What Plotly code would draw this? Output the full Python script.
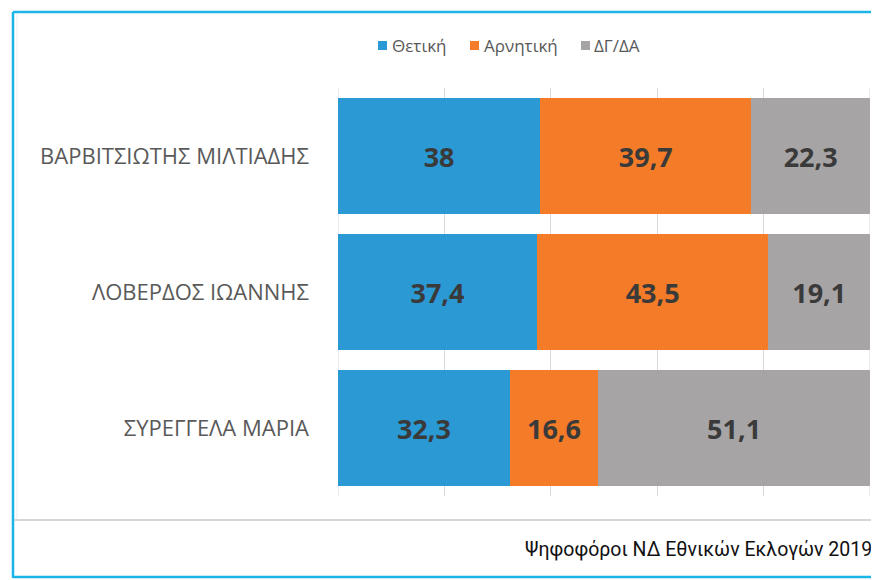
import plotly.graph_objects as go

categories = ["ΒΑΡΒΙΤΣΙΩΤΗΣ ΜΙΛΤΙΑΔΗΣ", "ΛΟΒΕΡΔΟΣ ΙΩΑΝΝΗΣ", "ΣΥΡΕΓΓΕΛΑ ΜΑΡΙΑ"]
thetiki = [38, 37.4, 32.3]
arnitiki = [39.7, 43.5, 16.6]
dgda = [22.3, 19.1, 51.1]
series_names = ["Θετική", "Αρνητική", "ΔΓ/ΔΑ"]
colors = ["#2A99D4", "#F47B28", "#A6A4A5"]
footer = "Ψηφοφόροι ΝΔ Εθνικών Εκλογών 2019"

OFF = 8  # browser body margin
W, H = 879 - OFF, 580 - OFF
L, R, T, B = 338, 870, 88, 496  # screen pixel coords of plot area


def fmt(v):
    return ("%g" % v).replace(".", ",")


fig = go.Figure()
for name, vals, col in zip(series_names, [thetiki, arnitiki, dgda], colors):
    fig.add_trace(go.Bar(
        y=categories, x=vals, name=name, orientation="h",
        marker=dict(color=col, line=dict(width=0)),
        text=[fmt(v) for v in vals], textposition="inside",
        insidetextanchor="middle",
        textfont=dict(family="Open Sans", size=27, color="#3a3a3a", weight="bold"),
        hoverinfo="skip", showlegend=False,
    ))


def px(x):
    return (x - L) / (R - L)


def py(y):
    return (B - y) / (B - T)


shapes = [
    dict(type="line", xref="paper", yref="paper", x0=px(13), x1=px(880), y0=py(12), y1=py(12),
         line=dict(color="#1CB5EA", width=2.5)),
    dict(type="line", xref="paper", yref="paper", x0=px(13), x1=px(13), y0=py(12), y1=py(578),
         line=dict(color="#1CB5EA", width=2.5)),
    dict(type="line", xref="paper", yref="paper", x0=px(13), x1=px(880), y0=py(577), y1=py(577),
         line=dict(color="#1CB5EA", width=2.5)),
    dict(type="line", xref="paper", yref="paper", x0=px(14), x1=px(880), y0=py(520), y1=py(520),
         line=dict(color="#D6D6D6", width=2)),
    dict(type="line", xref="paper", yref="paper", x0=px(17), x1=px(17), y0=py(14), y1=py(519),
         line=dict(color="#EEEEEE", width=1)),
    dict(type="line", xref="x", yref="paper", x0=0, x1=0, y0=0, y1=1, layer="below",
         line=dict(color="#D9D9D9", width=1)),
    dict(type="line", xref="x", yref="paper", x0=100, x1=100, y0=0, y1=1, layer="below",
         line=dict(color="#D9D9D9", width=1)),
]

legend_sq_x = [378, 470, 581]
legend_txt_x = [390, 482, 592]
annotations = []
for name, col, sx, tx in zip(series_names, colors, legend_sq_x, legend_txt_x):
    shapes.append(dict(type="rect", xref="paper", yref="paper",
                       x0=px(sx), x1=px(sx + 9), y0=py(50), y1=py(41),
                       fillcolor=col, line=dict(width=0)))
    annotations.append(dict(text=name, xref="paper", yref="paper", x=px(tx), y=py(46),
                            xanchor="left", yanchor="middle", showarrow=False,
                            font=dict(family="Open Sans", size=17, color="#595959")))

annotations.append(dict(text=footer, xref="paper", yref="paper", x=px(523), y=py(549),
                        xanchor="left", yanchor="middle", showarrow=False,
                        font=dict(family="Roboto", size=19.5, color="#111111")))

fig.update_layout(
    width=W, height=H,
    barmode="stack", bargap=0.147,
    margin=dict(l=L - OFF, r=W - (R - OFF), t=T - OFF, b=H - (B - OFF), pad=0),
    plot_bgcolor="white", paper_bgcolor="white",
    xaxis=dict(range=[0, 100], dtick=20, showgrid=True, gridcolor="#D9D9D9", gridwidth=1,
               showticklabels=False, zeroline=False, showline=False, fixedrange=True),
    yaxis=dict(autorange="reversed", showgrid=False, zeroline=False, showline=False,
               ticks="", ticklabelstandoff=28,
               tickfont=dict(family="Open Sans", size=22, color="#595959")),
    showlegend=False,
    shapes=shapes,
    annotations=annotations,
    uniformtext=dict(minsize=10, mode="show"),
)

fig.write_html("out.html")
